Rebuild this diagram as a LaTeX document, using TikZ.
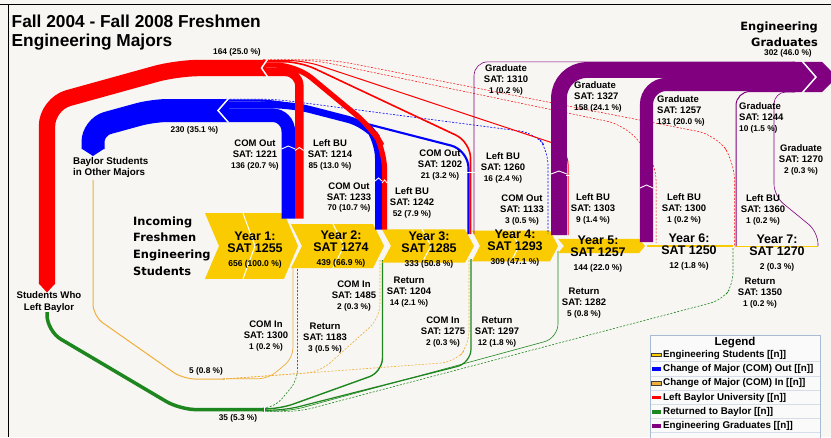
\documentclass[tikz,border=0pt]{standalone}
\usepackage{fontspec}
\setmainfont{Liberation Sans}
\newfontfamily\heavyfont{DejaVu Sans}
\definecolor{bg}{HTML}{F7F6F2}
\definecolor{yel}{HTML}{F9CB00}
\definecolor{bluef}{HTML}{0000FF}
\definecolor{redf}{HTML}{FF0000}
\definecolor{grn}{HTML}{1E861E}
\definecolor{org}{HTML}{F0AE3A}
\definecolor{pur}{HTML}{800080}
\definecolor{legbd}{HTML}{A7BCD3}
\definecolor{legln}{HTML}{D5DEE8}
\definecolor{legbg}{HTML}{FAFAFA}
% chevron-shaped year node: left x, tip x, centre y, half height, slant
\newcommand\yearchev[5]{%
  \fill[yel] (#1,#3-#4) -- (#2-#5,#3-#4) -- (#2,#3) -- (#2-#5,#3+#4)
    -- (#1,#3+#4) -- (#1+#5,#3) -- cycle;}
% white divider inside a chevron: x, centre y, half height, slant
\newcommand\chevsplit[4]{%
  \draw[white, line width=1] (#1,#2-#3) -- (#1+#4,#2) -- (#1,#2+#3);}
% white tick across a stream where its label sits: left x, right x, y
\newcommand\flowtick[3]{%
  \draw[white, line width=0.9] (#1,#3) -- ({(#1+#2)/2},#3-3) -- (#2,#3);}
% three-line flow label
\newcommand\trio[3]{#1\\#2\\[-0.5pt]{\fontsize{8.3}{9.5}\selectfont #3}}
\newcommand\yrtext[3]{#1\\#2\\[1.5pt]{\fontsize{8.5}{9.5}\selectfont #3}}
\begin{document}
\begin{tikzpicture}[x=1pt,y=-1pt,line cap=butt,
  lbl/.style={font=\bfseries\fontsize{9.5}{11}\selectfont, align=center, inner sep=0pt},
  yr/.style={font=\bfseries\fontsize{12.5}{12.5}\selectfont, align=center, inner sep=0pt},
  cnt/.style={font=\bfseries\fontsize{8.3}{9.5}\selectfont, inner sep=0pt},
  heavy/.style={font=\heavyfont\bfseries\fontsize{11.4}{16.7}\selectfont, inner sep=0pt},
  ttl/.style={font=\bfseries\fontsize{17.3}{19}\selectfont, inner sep=0pt},
  legtxt/.style={font=\bfseries\fontsize{9.8}{12}\selectfont, inner sep=0pt, anchor=west},
  dashline/.style={dash pattern=on 2pt off 1.5pt},
  swatch/.style={draw=black!75, line width=0.5}]

% canvas and frame
\fill[bg] (0,0) rectangle (831,437);
\useasboundingbox (0,0) rectangle (831,437);
\draw[black, line width=1.6] (0,4.5) -- (831,4.5);
\draw[black, line width=1.6] (8.3,4.5) -- (8.3,437);

% title
\node[ttl, anchor=base west] (title1) at (11.5,27.3) {Fall 2004 - Fall 2008 Freshmen};
\node[ttl, anchor=base west] (title2) at (11.5,46) {Engineering Majors};

% ---------- returns to Baylor (green) ----------
\draw[grn, line width=3.5, rounded corners=16] (47,312) -- (47,331) -- (180,409.6) -- (266,409.6);
\draw[grn, line width=0.6, dashline, rounded corners=10] (263,408) -- (275,407) -- (297.5,380) -- (297.5,266);
\draw[grn, line width=1.4, rounded corners=14] (263,408.85) -- (280,408.85) -- (382.5,372) -- (382.5,260);
\draw[grn, line width=1.2, rounded corners=14] (263,410.15) -- (285,410.15) -- (471,363) -- (471,259);
\draw[grn, line width=0.6, rounded corners=14] (263,411) -- (290,411) -- (558,338) -- (558,251);
\draw[grn, line width=0.6, dashline, rounded corners=12] (263,411.3) -- (300,411.3) -- (722,300) -- (733,285) -- (733,247);
\draw[white, line width=1.2] (264.5,406.6) -- (264.5,412.8);

% ---------- change of major in (orange) ----------
\draw[org, line width=1, rounded corners=12] (93,180) -- (93,316) -- (183,379) -- (226,379);
\draw[org, line width=0.7, rounded corners=10] (223,378.8) -- (268,378.8) -- (293,358) -- (293,266);
\draw[org, line width=0.6, dashline, rounded corners=14] (223,379) -- (320,372) -- (380,318) -- (380,259);
\draw[org, line width=0.6, dashline, rounded corners=14] (223,379.2) -- (455,362) -- (469,345) -- (469,258);
\draw[white, line width=1.2] (225.5,377) -- (225.5,381);

% ---------- year nodes ----------
\yearchev{205}{298}{246}{32.8}{14}
\chevsplit{243}{246}{32.8}{12}
\yearchev{291}{384}{246}{22}{11}
\chevsplit{333}{246}{22}{11}
\yearchev{382}{474}{246}{16.65}{9}
\chevsplit{422}{246}{16.65}{9}
\yearchev{472}{558}{246}{15.45}{8}
\chevsplit{511}{246}{15.45}{8}
\yearchev{558}{645}{246}{7.2}{6}
\draw[yel, line width=1.5] (647,246) -- (733,246);
\draw[yel, line width=1] (735,246) -- (818,246);

% ---------- change of major out (blue) ----------
\draw[bluef, line width=23, rounded corners=15] (93,149) -- (93,127) -- (153,110.5) -- (229,110.5);
\fill[bluef] (81.5,148.5) -- (104.5,148.5) -- (93,156) -- cycle;
\draw[bluef, line width=13.6, rounded corners=16] (226,115.2) -- (288.3,115.2) -- (288.3,218.5);
\draw[bluef, line width=7, rounded corners=18] (226,104.9) -- (292,104.9) -- (366,124) -- (378.5,140) -- (378.5,229.5);
\draw[bluef, line width=2.1, rounded corners=18] (226,100.35) -- (275,100.35) -- (468.5,150) -- (468.5,234);
\draw[bluef, line width=0.6, dashline, rounded corners=15] (226,99.15) -- (275,99.15) -- (535,133) -- (548,150) -- (548,234);
\draw[white, line width=1.5] (228.5,98.5) -- (218,110.5) -- (228.5,122.5);

% ---------- left Baylor (red) ----------
\draw[redf, line width=16.4, rounded corners=22] (47,284) -- (47,104) -- (177,68) -- (266,68);
\fill[redf] (38.8,283.5) -- (55.2,283.5) -- (47,292.5) -- cycle;
\draw[redf, line width=8.5, rounded corners=14] (263,71.95) -- (299.35,71.95) -- (299.35,218.5);
\draw[redf, line width=5.2, rounded corners=20] (263,65.1) -- (296,65.1) -- (372,128) -- (384.6,150) -- (384.6,229.5);
\draw[redf, line width=1.6, rounded corners=16] (263,61.7) -- (300,61.7) -- (470.5,142) -- (470.5,234);
\draw[redf, line width=1.0, rounded corners=16] (263,60.45) -- (304,60.45) -- (568,148) -- (568,235);
\draw[redf, line width=0.5, dashline, rounded corners=18] (263,59.9) -- (313,59.9) -- (625,125) -- (656,162) -- (656,243);
\draw[redf, line width=0.5, dashline, rounded corners=18] (263,59.9) -- (333,59.9) -- (716,135) -- (734.5,162) -- (734.5,247);
\draw[white, line width=1.5] (267.5,59.3) -- (261.5,68) -- (267.5,76.7);

% ---------- graduates (purple) ----------
\draw[pur, line width=0.6, rounded corners=14] (474,234) -- (474,61.8) -- (795,61.8);
\draw[pur, line width=15.8, rounded corners=28] (559,235) -- (559,70) -- (795,70);
\draw[pur, line width=13.1, rounded corners=20] (646.5,242) -- (646.5,84.45) -- (795,84.45);
\draw[pur, line width=1, rounded corners=14] (736,246) -- (736,91.5) -- (795,91.5);
\draw[pur, line width=0.6, rounded corners=12] (818,246) -- (818,232) -- (774,196) -- (774,92) -- (795,92);
\fill[pur] (792,61.9) -- (822,61.9) -- (837,77.1) -- (822,92.2) -- (792,92.2) -- cycle;
\draw[white, line width=1.5] (802,61) -- (816,77.1) -- (802,93);

% label ticks on the streams
\flowtick{281.5}{295.1}{149}
\flowtick{295.1}{303.6}{150.5}
\flowtick{375}{382}{181}
\flowtick{382}{387.2}{183}
\draw[white, line width=0.9] (463,172) -- (477,172);
\flowtick{551.1}{566.9}{174}
\draw[white, line width=0.9] (566,175) -- (571,175);
\flowtick{640}{653}{188}

% ---------- end nodes ----------
\node[heavy, anchor=base east] (eg1) at (818,30) {Engineering};
\node[heavy, anchor=base east] (eg2) at (818,46.7) {Graduates};
\node[cnt] (egn) at (788,53.3) {302 (46.0 \%)};
\node[heavy, anchor=west, align=left] (inc) at (133,246) {Incoming\\Freshmen\\Engineering\\Students};
\node[lbl, font=\bfseries\fontsize{9.6}{11.5}\selectfont] (leftbu) at (49,302) {Students Who\\Left Baylor};
\node[lbl, font=\bfseries\fontsize{9.8}{11.5}\selectfont, anchor=west, align=left] (other) at (73,167.5) {Baylor Students\\in Other Majors};
\node[cnt] (n164) at (237,52.5) {164 (25.0 \%)};
\node[cnt] (n230) at (194.5,130) {230 (35.1 \%)};
\node[cnt] (n5) at (206,371) {5 (0.8 \%)};
\node[cnt] (n35) at (238,418) {35 (5.3 \%)};

% year labels
\node[yr] (y1) at (255,250) {\yrtext{Year 1:}{SAT 1255}{656 (100.0 \%)}};
\node[yr] (y2) at (341,249) {\yrtext{Year 2:}{SAT 1274}{439 (66.9 \%)}};
\node[yr] (y3) at (429,250) {\yrtext{Year 3:}{SAT 1285}{333 (50.8 \%)}};
\node[yr] (y4) at (515,248) {\yrtext{Year 4:}{SAT 1293}{309 (47.1 \%)}};
\node[yr] (y5) at (598,254) {\yrtext{Year 5:}{SAT 1257}{144 (22.0 \%)}};
\node[yr] (y6) at (689,252) {\yrtext{Year 6:}{SAT 1250}{12 (1.8 \%)}};
\node[yr] (y7) at (777,253) {\yrtext{Year 7:}{SAT 1270}{2 (0.3 \%)}};

% outflow labels
\node[lbl] (o1) at (255,155) {\trio{COM Out}{SAT: 1221}{136 (20.7 \%)}};
\node[lbl] (l1) at (330,155) {\trio{Left BU}{SAT: 1214}{85 (13.0 \%)}};
\node[lbl] (o2) at (349,197.5) {\trio{COM Out}{SAT: 1233}{70 (10.7 \%)}};
\node[lbl] (l2) at (412,203) {\trio{Left BU}{SAT: 1242}{52 (7.9 \%)}};
\node[lbl] (o3) at (440,165) {\trio{COM Out}{SAT: 1202}{21 (3.2 \%)}};
\node[lbl] (l3) at (503,168) {\trio{Left BU}{SAT: 1260}{16 (2.4 \%)}};
\node[lbl] (o4) at (522,210) {\trio{COM Out}{SAT: 1133}{3 (0.5 \%)}};
\node[lbl] (l4) at (593,209) {\trio{Left BU}{SAT: 1303}{9 (1.4 \%)}};
\node[lbl] (l5) at (684,209) {\trio{Left BU}{SAT: 1300}{1 (0.2 \%)}};
\node[lbl] (l6) at (763,210) {\trio{Left BU}{SAT: 1360}{1 (0.2 \%)}};
\node[lbl] (g3) at (506,80) {\trio{Graduate}{SAT: 1310}{1 (0.2 \%)}};
\node[lbl, anchor=west, align=left] (g4) at (574,97) {\trio{Graduate}{SAT: 1327}{158 (24.1 \%)}};
\node[lbl, anchor=west, align=left] (g5) at (657,111) {\trio{Graduate}{SAT: 1257}{131 (20.0 \%)}};
\node[lbl, anchor=west, align=left] (g6) at (739,118) {\trio{Graduate}{SAT: 1244}{10 (1.5 \%)}};
\node[lbl] (g7) at (801,160) {\trio{Graduate}{SAT: 1270}{2 (0.3 \%)}};

% inflow labels
\node[lbl] (i2) at (266,336) {\trio{COM In}{SAT: 1300}{1 (0.2 \%)}};
\node[lbl] (r2) at (325,338) {\trio{Return}{SAT: 1183}{3 (0.5 \%)}};
\node[lbl] (i3) at (354,296) {\trio{COM In}{SAT: 1485}{2 (0.3 \%)}};
\node[lbl] (r3) at (409,292) {\trio{Return}{SAT: 1204}{14 (2.1 \%)}};
\node[lbl] (i4) at (443,332) {\trio{COM In}{SAT: 1275}{2 (0.3 \%)}};
\node[lbl] (r4) at (497,332) {\trio{Return}{SAT: 1297}{12 (1.8 \%)}};
\node[lbl] (r5) at (584,303) {\trio{Return}{SAT: 1282}{5 (0.8 \%)}};
\node[lbl] (r7) at (760,293) {\trio{Return}{SAT: 1350}{1 (0.2 \%)}};

% ---------- legend ----------
\draw[legbd, fill=legbg, line width=0.8] (650,335.5) rectangle (820,446);
\node[font=\bfseries\fontsize{11.5}{12}\selectfont, inner sep=0pt] (legtitle) at (735,343) {Legend};
\foreach \yy in {361.6,375.8,390,404.2,418.4,432.6}
  \draw[legln, line width=0.6] (650.5,\yy) -- (819.5,\yy);
\filldraw[fill=yel, swatch] (651.5,353.2) rectangle (661,356.7);
\fill[bluef] (651.5,367.4) rectangle (661,370.9);
\filldraw[fill=org, swatch] (651.5,381.6) rectangle (661,385.1);
\fill[redf] (651.5,395.8) rectangle (661,399.3);
\fill[grn] (651.5,410) rectangle (661,413.5);
\fill[pur] (651.5,424.2) rectangle (661,427.7);
\node[legtxt] (lg1) at (663,354.9) {Engineering Students [[n]]};
\node[legtxt] (lg2) at (663,369.1) {Change of Major (COM) Out [[n]]};
\node[legtxt] (lg3) at (663,383.3) {Change of Major (COM) In [[n]]};
\node[legtxt] (lg4) at (663,397.5) {Left Baylor University [[n]]};
\node[legtxt] (lg5) at (663,411.7) {Returned to Baylor [[n]]};
\node[legtxt] (lg6) at (663,425.9) {Engineering Graduates [[n]]};
\end{tikzpicture}
\end{document}
